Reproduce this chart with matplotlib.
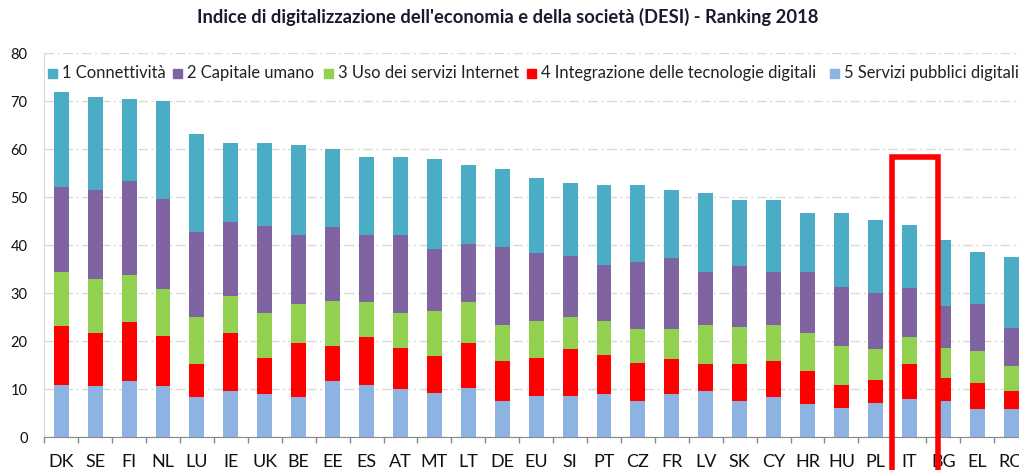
import numpy as np
import matplotlib
matplotlib.use("Agg")
from matplotlib import pyplot as plt
from matplotlib.patches import Rectangle

plt.rcParams['font.family'] = ['Lato', 'DejaVu Sans']

countries = ['DK', 'SE', 'FI', 'NL', 'LU', 'IE', 'UK', 'BE', 'EE', 'ES', 'AT', 'MT', 'LT', 'DE', 'EU',
             'SI', 'PT', 'CZ', 'FR', 'LV', 'SK', 'CY', 'HR', 'HU', 'PL', 'IT', 'BG', 'EL', 'RO']

# one list per DESI dimension (segment heights, bottom to top of each bar)
servizi_pubblici = [11.0, 10.6, 11.7, 10.7, 8.5, 9.6, 9.0, 8.5, 11.7, 11.0, 10.0, 9.3, 10.3, 7.6, 8.6,
                    8.6, 9.0, 7.6, 9.0, 9.7, 7.6, 8.3, 6.9, 6.1, 7.2, 7.9, 7.6, 5.8, 6.0]
integrazione = [12.1, 11.1, 12.3, 10.4, 6.7, 12.1, 7.5, 11.2, 7.3, 9.8, 8.7, 7.6, 9.4, 8.2, 7.9,
                9.7, 8.2, 7.9, 7.3, 5.5, 7.6, 7.5, 6.9, 4.9, 4.7, 7.3, 4.7, 5.5, 3.7]
uso_internet = [11.3, 11.3, 9.8, 9.8, 9.8, 7.7, 9.5, 8.0, 9.5, 7.3, 7.3, 9.5, 8.4, 7.7, 7.7,
                6.7, 7.0, 7.0, 6.2, 8.3, 7.8, 7.7, 8.0, 8.1, 6.4, 5.6, 6.4, 6.7, 5.2]
capitale_umano = [17.8, 18.5, 19.7, 18.8, 17.7, 15.5, 18.1, 14.4, 15.3, 14.0, 16.1, 12.8, 12.2, 16.2, 14.1,
                  12.8, 11.6, 14.0, 14.9, 10.9, 12.7, 10.9, 12.6, 12.2, 11.8, 10.4, 8.7, 9.7, 7.9]
connettivita = [19.7, 19.3, 16.9, 20.4, 20.4, 16.5, 17.3, 18.9, 16.3, 16.2, 16.2, 18.7, 16.4, 16.1, 15.7,
                15.2, 16.8, 16.1, 14.2, 16.4, 13.7, 15.0, 12.3, 15.4, 15.2, 13.0, 13.7, 10.9, 14.7]

labels = ['1 Connettività', '2 Capitale umano', '3 Uso dei servizi Internet',
          '4 Integrazione delle tecnologie digitali', '5 Servizi pubblici digitali']
series = [connettivita, capitale_umano, uso_internet, integrazione, servizi_pubblici]
colors = ['#4bacc6', '#8064a2', '#92d050', '#ff0000', '#8db3e2']

W, H = 1019, 470
fig = plt.figure(figsize=(W / 100, H / 100), dpi=100)
# the original chart is cropped on the right, so the axes run past the figure edge
ax = fig.add_axes([44.3 / W, (H - 437.3) / H, (1028 - 44.3) / W, 384 / H])

x = np.arange(len(countries))
bottom = np.zeros(len(countries))
for vals, col in zip(series[::-1], colors[::-1]):
    ax.bar(x, vals, 0.44, bottom=bottom, color=col, zorder=3)
    bottom += np.array(vals)

ax.set_xlim(-0.5, len(countries) - 0.5)
ax.set_ylim(0, 80)
ax.set_yticks(np.arange(0, 81, 10))
ax.grid(axis='y', color='#d9d9d9', linewidth=1, linestyle=(0, (7, 2.5, 1.5, 2.5)), zorder=0)

ax.set_xticks(x)
ax.set_xticklabels(countries)
ax.set_xticks(np.arange(-0.5, len(countries)), minor=True)
ax.tick_params(axis='x', which='major', length=0, pad=12, labelsize=13, labelcolor='#111111')
ax.tick_params(axis='x', which='minor', length=4, width=1, color='#888888', direction='out')
ax.tick_params(axis='y', length=0, pad=12, labelsize=10.5, labelcolor='#111111')

for s in ['top', 'right']:
    ax.spines[s].set_visible(False)
ax.spines['left'].set_color('#d9d9d9')
ax.spines['bottom'].set_color('#888888')

fig.text(508 / W, 1 - 17 / H, "Indice di digitalizzazione dell'economia e della società (DESI) - Ranking 2018",
         ha='center', va='center', fontsize=13.2, fontweight='bold', color='#1a1a2e')

# legend laid out like the original (one row, cut at the right edge)
legend_x = [48, 173, 324, 527, 830]
ly = 1 - 73 / H
for lx, lab, col in zip(legend_x, labels, colors):
    fig.patches.append(Rectangle((lx / W, ly - 4.5 / H), 9 / W, 9 / H, transform=fig.transFigure,
                                 color=col, figure=fig))
    fig.text((lx + 14) / W, ly, lab, ha='left', va='center', fontsize=11.9, color='#222222')

# highlight box around Italy
it = countries.index('IT')
ax.add_patch(Rectangle((it - 0.52, -8), 1.36, 66.4, fill=False, edgecolor='#ff0000',
                       linewidth=4, clip_on=False, zorder=10, joinstyle='miter'))

fig.savefig('out.png', dpi=100, facecolor='white')
